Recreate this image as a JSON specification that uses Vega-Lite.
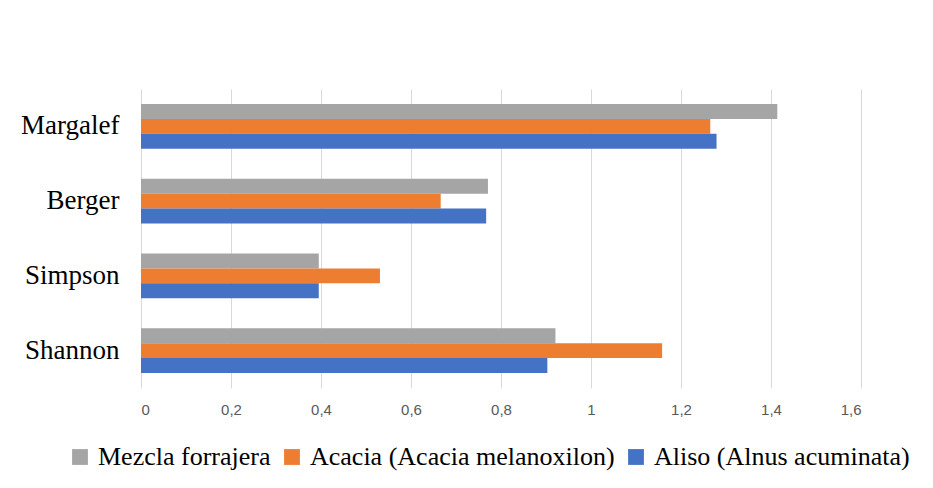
{
  "$schema": "https://vega.github.io/schema/vega-lite/v6.json",
  "width": 720,
  "height": 299,
  "autosize": {"type": "none"},
  "padding": {"left": 141, "top": 89, "right": 72, "bottom": 100},
  "background": "white",
  "data": {
    "values": [
      {"indice": "Margalef", "serie": "Mezcla forrajera", "valor": 1.414},
      {"indice": "Margalef", "serie": "Acacia (Acacia melanoxilon)", "valor": 1.265},
      {"indice": "Margalef", "serie": "Aliso (Alnus acuminata)", "valor": 1.279},
      {"indice": "Berger", "serie": "Mezcla forrajera", "valor": 0.771},
      {"indice": "Berger", "serie": "Acacia (Acacia melanoxilon)", "valor": 0.666},
      {"indice": "Berger", "serie": "Aliso (Alnus acuminata)", "valor": 0.767},
      {"indice": "Simpson", "serie": "Mezcla forrajera", "valor": 0.395},
      {"indice": "Simpson", "serie": "Acacia (Acacia melanoxilon)", "valor": 0.531},
      {"indice": "Simpson", "serie": "Aliso (Alnus acuminata)", "valor": 0.395},
      {"indice": "Shannon", "serie": "Mezcla forrajera", "valor": 0.921},
      {"indice": "Shannon", "serie": "Acacia (Acacia melanoxilon)", "valor": 1.158},
      {"indice": "Shannon", "serie": "Aliso (Alnus acuminata)", "valor": 0.903}
    ]
  },
  "mark": {"type": "bar"},
  "encoding": {
    "y": {
      "field": "indice",
      "type": "nominal",
      "sort": ["Margalef", "Berger", "Simpson", "Shannon"],
      "title": null,
      "scale": {"paddingInner": 0.4, "paddingOuter": 0.2},
      "axis": {
        "labelFont": "Liberation Serif",
        "labelFontSize": 27,
        "labelColor": "black",
        "labelPadding": 22,
        "ticks": false,
        "domain": false
      }
    },
    "yOffset": {
      "field": "serie",
      "sort": ["Mezcla forrajera", "Acacia (Acacia melanoxilon)", "Aliso (Alnus acuminata)"],
      "scale": {"paddingInner": 0, "paddingOuter": 0}
    },
    "x": {
      "field": "valor",
      "type": "quantitative",
      "title": null,
      "scale": {"domain": [0, 1.6], "nice": false},
      "axis": {
        "values": [0, 0.2, 0.4, 0.6, 0.8, 1, 1.2, 1.4, 1.6],
        "format": "~g",
        "labelExpr": "replace(datum.label, '.', ',')",
        "grid": true,
        "gridColor": "#d9d9d9",
        "domain": false,
        "ticks": false,
        "labelFont": "Liberation Sans",
        "labelFontSize": 15,
        "labelColor": "#595959",
        "labelPadding": 14
      }
    },
    "color": {
      "field": "serie",
      "type": "nominal",
      "sort": ["Mezcla forrajera", "Acacia (Acacia melanoxilon)", "Aliso (Alnus acuminata)"],
      "scale": {
        "domain": ["Mezcla forrajera", "Acacia (Acacia melanoxilon)", "Aliso (Alnus acuminata)"],
        "range": ["#a5a5a5", "#ed7d31", "#4472c4"]
      },
      "legend": {
        "orient": "none",
        "legendX": -74,
        "legendY": 355,
        "direction": "horizontal",
        "title": null,
        "symbolType": "square",
        "symbolSize": 250,
        "symbolStrokeWidth": 0,
        "symbolOpacity": 1,
        "labelFont": "Liberation Serif",
        "labelFontSize": 26,
        "labelColor": "black",
        "labelOffset": 5,
        "labelLimit": 500,
        "columnPadding": 8
      }
    }
  },
  "config": {
    "view": {"stroke": null}
  }
}
